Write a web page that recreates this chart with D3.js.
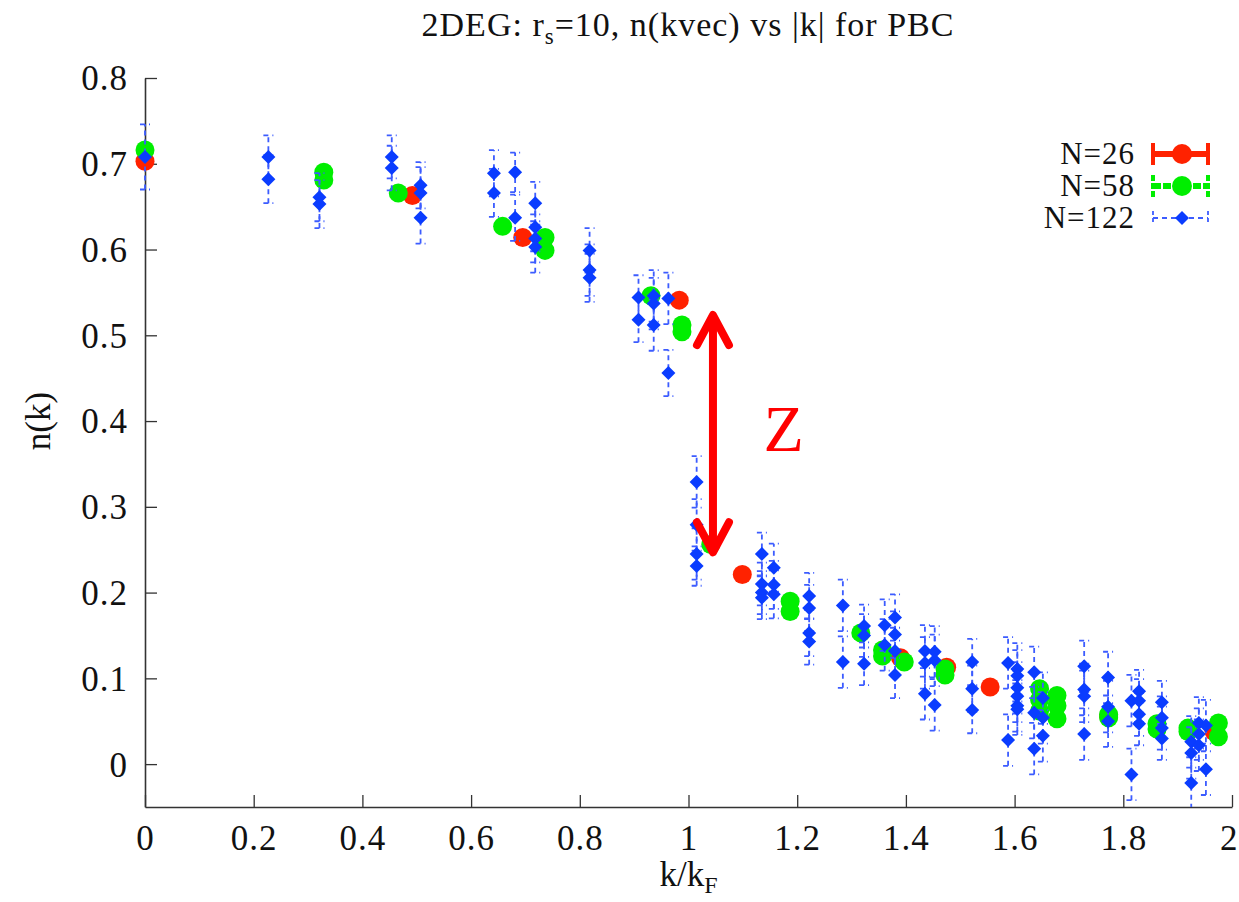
<!DOCTYPE html>
<html>
<head>
<meta charset="utf-8">
<script src="https://cdn.jsdelivr.net/npm/d3@7"></script>
<style>
  html, body { margin: 0; padding: 0; background: #fff; }
  svg { display: block; }
  text { font-family: "Liberation Serif", "Times New Roman", serif; fill: #111; }
</style>
</head>
<body>
<svg id="chart" width="1239" height="902"></svg>
<script>
// ---------------- data ----------------
const xTicks = [0, 0.2, 0.4, 0.6, 0.8, 1, 1.2, 1.4, 1.6, 1.8, 2];
const yTicks = [0, 0.1, 0.2, 0.3, 0.4, 0.5, 0.6, 0.7, 0.8];
const seriesNames = ["N=26", "N=58", "N=122"];

// N=26
const n26K   = [0, 0.492, 0.695, 0.983, 1.099, 1.390, 1.475, 1.555, 1.773, 1.967];
const n26N   = [0.703, 0.663, 0.614, 0.541, 0.221, 0.124, 0.113, 0.090, 0.056, 0.038];
const n26Err = [0.004, 0.004, 0.004, 0.004, 0.004, 0.004, 0.004, 0.004, 0.004, 0.004];

// N=58
const n58K = [0, 0.329, 0.329, 0.466, 0.658, 0.736, 0.736, 0.931, 0.988, 0.988, 1.041,
              1.187, 1.187, 1.317, 1.357, 1.357, 1.397, 1.472, 1.472,
              1.646, 1.646, 1.646, 1.678, 1.678, 1.678, 1.773, 1.773,
              1.862, 1.862, 1.919, 1.919, 1.975, 1.975];
const n58N = [0.716, 0.690, 0.681, 0.666, 0.627, 0.614, 0.599, 0.546, 0.512, 0.504, 0.256,
              0.190, 0.178, 0.153, 0.133, 0.126, 0.119, 0.111, 0.104,
              0.088, 0.075, 0.062, 0.080, 0.068, 0.053, 0.058, 0.054,
              0.047, 0.041, 0.042, 0.038, 0.048, 0.032];
const n58Err = [0.005, 0.005, 0.005, 0.005, 0.005, 0.005, 0.005, 0.005, 0.005, 0.005, 0.005,
                0.005, 0.005, 0.005, 0.005, 0.005, 0.005, 0.005, 0.005,
                0.005, 0.005, 0.005, 0.005, 0.005, 0.005, 0.005, 0.005,
                0.005, 0.005, 0.005, 0.005, 0.005, 0.005];

// N=122
const n122K = [0,
  0.227, 0.227, 0.321, 0.321, 0.454, 0.454, 0.507, 0.507, 0.507,
  0.642, 0.642, 0.681, 0.681, 0.718, 0.718, 0.718, 0.718,
  0.818, 0.818, 0.818, 0.908, 0.908, 0.936, 0.936, 0.936, 0.963, 0.963,
  1.015, 1.015, 1.015, 1.015, 1.135, 1.135, 1.135, 1.135, 1.157, 1.157, 1.157,
  1.222, 1.222, 1.222, 1.222, 1.284, 1.284, 1.323, 1.323, 1.323, 1.361, 1.361,
  1.380, 1.380, 1.380, 1.380, 1.435, 1.435, 1.435, 1.453, 1.453, 1.453,
  1.522, 1.522, 1.522, 1.588, 1.588,
  1.605, 1.605, 1.605, 1.605, 1.605, 1.605, 1.636, 1.636, 1.636, 1.652, 1.652, 1.652,
  1.728, 1.728, 1.728, 1.728, 1.772, 1.772, 1.772, 1.815, 1.815,
  1.829, 1.829, 1.829, 1.829, 1.871, 1.871, 1.871, 1.871,
  1.925, 1.925, 1.925, 1.939, 1.939, 1.939, 1.952, 1.952];
const n122N = [0.708,
  0.708, 0.682, 0.661, 0.653, 0.708, 0.695, 0.675, 0.666, 0.637,
  0.689, 0.666, 0.690, 0.637, 0.654, 0.626, 0.613, 0.603,
  0.599, 0.576, 0.567, 0.544, 0.518, 0.546, 0.537, 0.512, 0.543, 0.456,
  0.329, 0.279, 0.245, 0.231, 0.245, 0.210, 0.200, 0.194, 0.229, 0.209, 0.198,
  0.196, 0.182, 0.153, 0.143, 0.185, 0.119, 0.161, 0.150, 0.117, 0.162, 0.139,
  0.171, 0.151, 0.132, 0.104, 0.132, 0.118, 0.082, 0.131, 0.121, 0.069,
  0.119, 0.088, 0.063, 0.118, 0.028,
  0.111, 0.103, 0.089, 0.079, 0.068, 0.064, 0.107, 0.060, 0.018, 0.077, 0.054, 0.033,
  0.114, 0.087, 0.079, 0.035, 0.101, 0.067, 0.050, 0.074, -0.012,
  0.085, 0.074, 0.058, 0.047, 0.072, 0.054, 0.042, 0.030,
  0.026, 0.013, -0.022, 0.048, 0.035, 0.022, 0.045, -0.006];
const n122Err = [0.038,
  0.025, 0.028, 0.028, 0.028, 0.025, 0.026, 0.027, 0.030, 0.030,
  0.027, 0.028, 0.023, 0.027, 0.025, 0.028, 0.028, 0.030,
  0.026, 0.030, 0.028, 0.026, 0.026, 0.030, 0.030, 0.030, 0.030, 0.027,
  0.030, 0.030, 0.030, 0.023, 0.025, 0.025, 0.025, 0.025, 0.028, 0.028, 0.028,
  0.027, 0.027, 0.027, 0.027, 0.030, 0.030, 0.025, 0.025, 0.025, 0.030, 0.030,
  0.027, 0.027, 0.027, 0.027, 0.030, 0.030, 0.030, 0.030, 0.030, 0.030,
  0.027, 0.027, 0.027, 0.030, 0.030,
  0.030, 0.030, 0.030, 0.030, 0.030, 0.030, 0.030, 0.030, 0.030, 0.030, 0.030, 0.030,
  0.030, 0.030, 0.030, 0.030, 0.030, 0.030, 0.030, 0.030, 0.030,
  0.025, 0.025, 0.025, 0.025, 0.025, 0.025, 0.025, 0.025,
  0.030, 0.030, 0.030, 0.030, 0.030, 0.030, 0.030, 0.030];

// annotation (Z gap) in data units
const gapK = 1.045;
const gapTop = 0.5236;
const gapBottom = 0.247;

// ---------------- drawing ----------------
const svg = d3.select("#chart");
const x = d3.scaleLinear().domain([0, 2]).range([145, 1232]);
const y = d3.scaleLinear().domain([-0.05, 0.8]).range([807, 78]);

const RED = "#ff2200", GREEN = "#00ee00", BLUE = "#0a3cff", BLUE_ERR = "#3c5cff";
const FONT = 35;

// axes (left & bottom only, inward ticks)
const fmt = d => (d === 0 ? "0" : (Number.isInteger(d) ? String(d) : d3.format(".1f")(d)));
const xAxis = svg.append("g").attr("transform", `translate(0,${y(-0.05)})`)
  .call(d3.axisBottom(x).tickValues(xTicks).tickSizeInner(-12).tickSizeOuter(0).tickFormat(fmt));
const yAxis = svg.append("g").attr("transform", `translate(${x(0)},0)`)
  .call(d3.axisLeft(y).tickValues(yTicks).tickSizeInner(-12).tickSizeOuter(0).tickFormat(fmt));
[xAxis, yAxis].forEach(a => {
  a.select(".domain").attr("stroke", "#333").attr("stroke-width", 1.6);
  a.selectAll(".tick line").attr("stroke", "#333").attr("stroke-width", 1.3);
  a.selectAll(".tick text").style("font-size", FONT + "px").style("letter-spacing", "1px").attr("fill", "#111");
});
xAxis.selectAll(".tick text").attr("dy", 0).attr("y", 43);
xAxis.selectAll(".tick").filter(d => d === 2).select("text").attr("text-anchor", "end").attr("x", 6);
yAxis.selectAll(".tick text").attr("x", -17).attr("dy", "0.34em");

// clip region
svg.append("clipPath").attr("id", "plotclip").append("rect")
  .attr("x", x(0) - 12).attr("y", y(0.8) - 5).attr("width", x(2) - x(0) + 20).attr("height", y(-0.05) - y(0.8) + 5);

const plot = svg.append("g").attr("clip-path", "url(#plotclip)");

function zip(k, n, e) { return k.map((v, i) => ({ k: v, n: n[i], e: e[i] })); }
const d26 = zip(n26K, n26N, n26Err);
const d58 = zip(n58K, n58N, n58Err);
const d122 = zip(n122K, n122N, n122Err);

function errorBars(g, data, color, width, dash, cap) {
  const eb = g.append("g").attr("stroke", color).attr("stroke-width", width).attr("fill", "none");
  if (dash) eb.attr("stroke-dasharray", dash);
  data.forEach(d => {
    eb.append("line").attr("x1", x(d.k)).attr("x2", x(d.k)).attr("y1", y(d.n - d.e)).attr("y2", y(d.n + d.e));
    eb.append("line").attr("x1", x(d.k) - cap).attr("x2", x(d.k) + cap).attr("y1", y(d.n + d.e)).attr("y2", y(d.n + d.e));
    eb.append("line").attr("x1", x(d.k) - cap).attr("x2", x(d.k) + cap).attr("y1", y(d.n - d.e)).attr("y2", y(d.n - d.e));
  });
}

// N=26
errorBars(plot, d26, RED, 4, null, 6);
plot.append("g").selectAll("circle").data(d26).join("circle")
  .attr("cx", d => x(d.k)).attr("cy", d => y(d.n)).attr("r", 9.5).attr("fill", RED);
// N=58
errorBars(plot, d58, GREEN, 4, "6,2", 6);
plot.append("g").selectAll("circle").data(d58).join("circle")
  .attr("cx", d => x(d.k)).attr("cy", d => y(d.n)).attr("r", 9.5).attr("fill", GREEN);
// N=122
errorBars(plot, d122, BLUE_ERR, 1.8, "5,4", 5);
const diamond = s => `M0,${-s}L${s},0L0,${s}L${-s},0Z`;
plot.append("g").selectAll("path").data(d122).join("path")
  .attr("transform", d => `translate(${x(d.k)},${y(d.n)})`)
  .attr("d", diamond(7)).attr("fill", BLUE);

// Z annotation arrow
const ax = x(gapK), ay1 = y(gapTop), ay2 = y(gapBottom);
const arrow = svg.append("g").attr("stroke", "#ff0000").attr("stroke-width", 8)
  .attr("stroke-linecap", "round").attr("stroke-linejoin", "round").attr("fill", "none");
arrow.append("line").attr("x1", ax).attr("x2", ax).attr("y1", ay1 + 3).attr("y2", ay2 - 3);
arrow.append("path").attr("d", `M${ax - 16},${ay1 + 30}L${ax},${ay1}L${ax + 16},${ay1 + 30}`);
arrow.append("path").attr("d", `M${ax - 16},${ay2 - 30}L${ax},${ay2}L${ax + 16},${ay2 - 30}`);
svg.append("text").attr("x", x(1.175)).attr("y", y(0.365)).attr("text-anchor", "middle")
  .style("font-size", "66px").style("fill", "#ff0000").text("Z");

// Title
const title = svg.append("text").attr("x", 688).attr("y", 36).attr("text-anchor", "middle")
  .style("font-size", "34px").style("letter-spacing", "1px");
title.append("tspan").text("2DEG: r");
title.append("tspan").style("font-size", "23px").attr("dy", 8).text("s");
title.append("tspan").attr("dy", -8).text("=10, n(kvec) vs |k| for PBC");

// Axis labels
const xl = svg.append("text").attr("x", x(1)).attr("y", 886).attr("text-anchor", "middle").style("font-size", FONT + "px");
xl.append("tspan").text("k/k");
xl.append("tspan").style("font-size", "24px").attr("dy", 7).text("F");
svg.append("text").attr("transform", `translate(50,${y(0.4)}) rotate(-90)`).attr("text-anchor", "middle")
  .style("font-size", FONT + "px").text("n(k)");

// Legend
const legendY = [154, 186, 218];
const legend = svg.append("g");
const lx1 = 1153, lx2 = 1208, lxc = 1182;
seriesNames.forEach((name, i) => {
  legend.append("text").attr("x", 1135).attr("y", legendY[i]).attr("dy", "0.33em")
    .attr("text-anchor", "end").style("font-size", "31px").style("letter-spacing", "1px").text(name);
});
// red
legend.append("line").attr("x1", lx1).attr("x2", lx2).attr("y1", legendY[0]).attr("y2", legendY[0]).attr("stroke", RED).attr("stroke-width", 6);
[lx1, lx2].forEach(px => legend.append("line").attr("x1", px).attr("x2", px).attr("y1", legendY[0] - 11).attr("y2", legendY[0] + 11).attr("stroke", RED).attr("stroke-width", 4));
legend.append("circle").attr("cx", lxc).attr("cy", legendY[0]).attr("r", 10).attr("fill", RED);
// green
legend.append("line").attr("x1", lx1).attr("x2", lx2).attr("y1", legendY[1]).attr("y2", legendY[1]).attr("stroke", GREEN).attr("stroke-width", 6).attr("stroke-dasharray", "8,2");
[lx1, lx2].forEach(px => legend.append("line").attr("x1", px).attr("x2", px).attr("y1", legendY[1] - 11).attr("y2", legendY[1] + 11).attr("stroke", GREEN).attr("stroke-width", 4).attr("stroke-dasharray", "6,2"));
legend.append("circle").attr("cx", lxc).attr("cy", legendY[1]).attr("r", 10).attr("fill", GREEN);
// blue
legend.append("line").attr("x1", lx1).attr("x2", lx2).attr("y1", legendY[2]).attr("y2", legendY[2]).attr("stroke", BLUE_ERR).attr("stroke-width", 1.8).attr("stroke-dasharray", "5,4");
[lx1, lx2].forEach(px => legend.append("line").attr("x1", px).attr("x2", px).attr("y1", legendY[2] - 7).attr("y2", legendY[2] + 7).attr("stroke", BLUE_ERR).attr("stroke-width", 1.8).attr("stroke-dasharray", "4,3"));
legend.append("path").attr("transform", `translate(${lxc},${legendY[2]})`).attr("d", diamond(7)).attr("fill", BLUE);
</script>
</body>
</html>
